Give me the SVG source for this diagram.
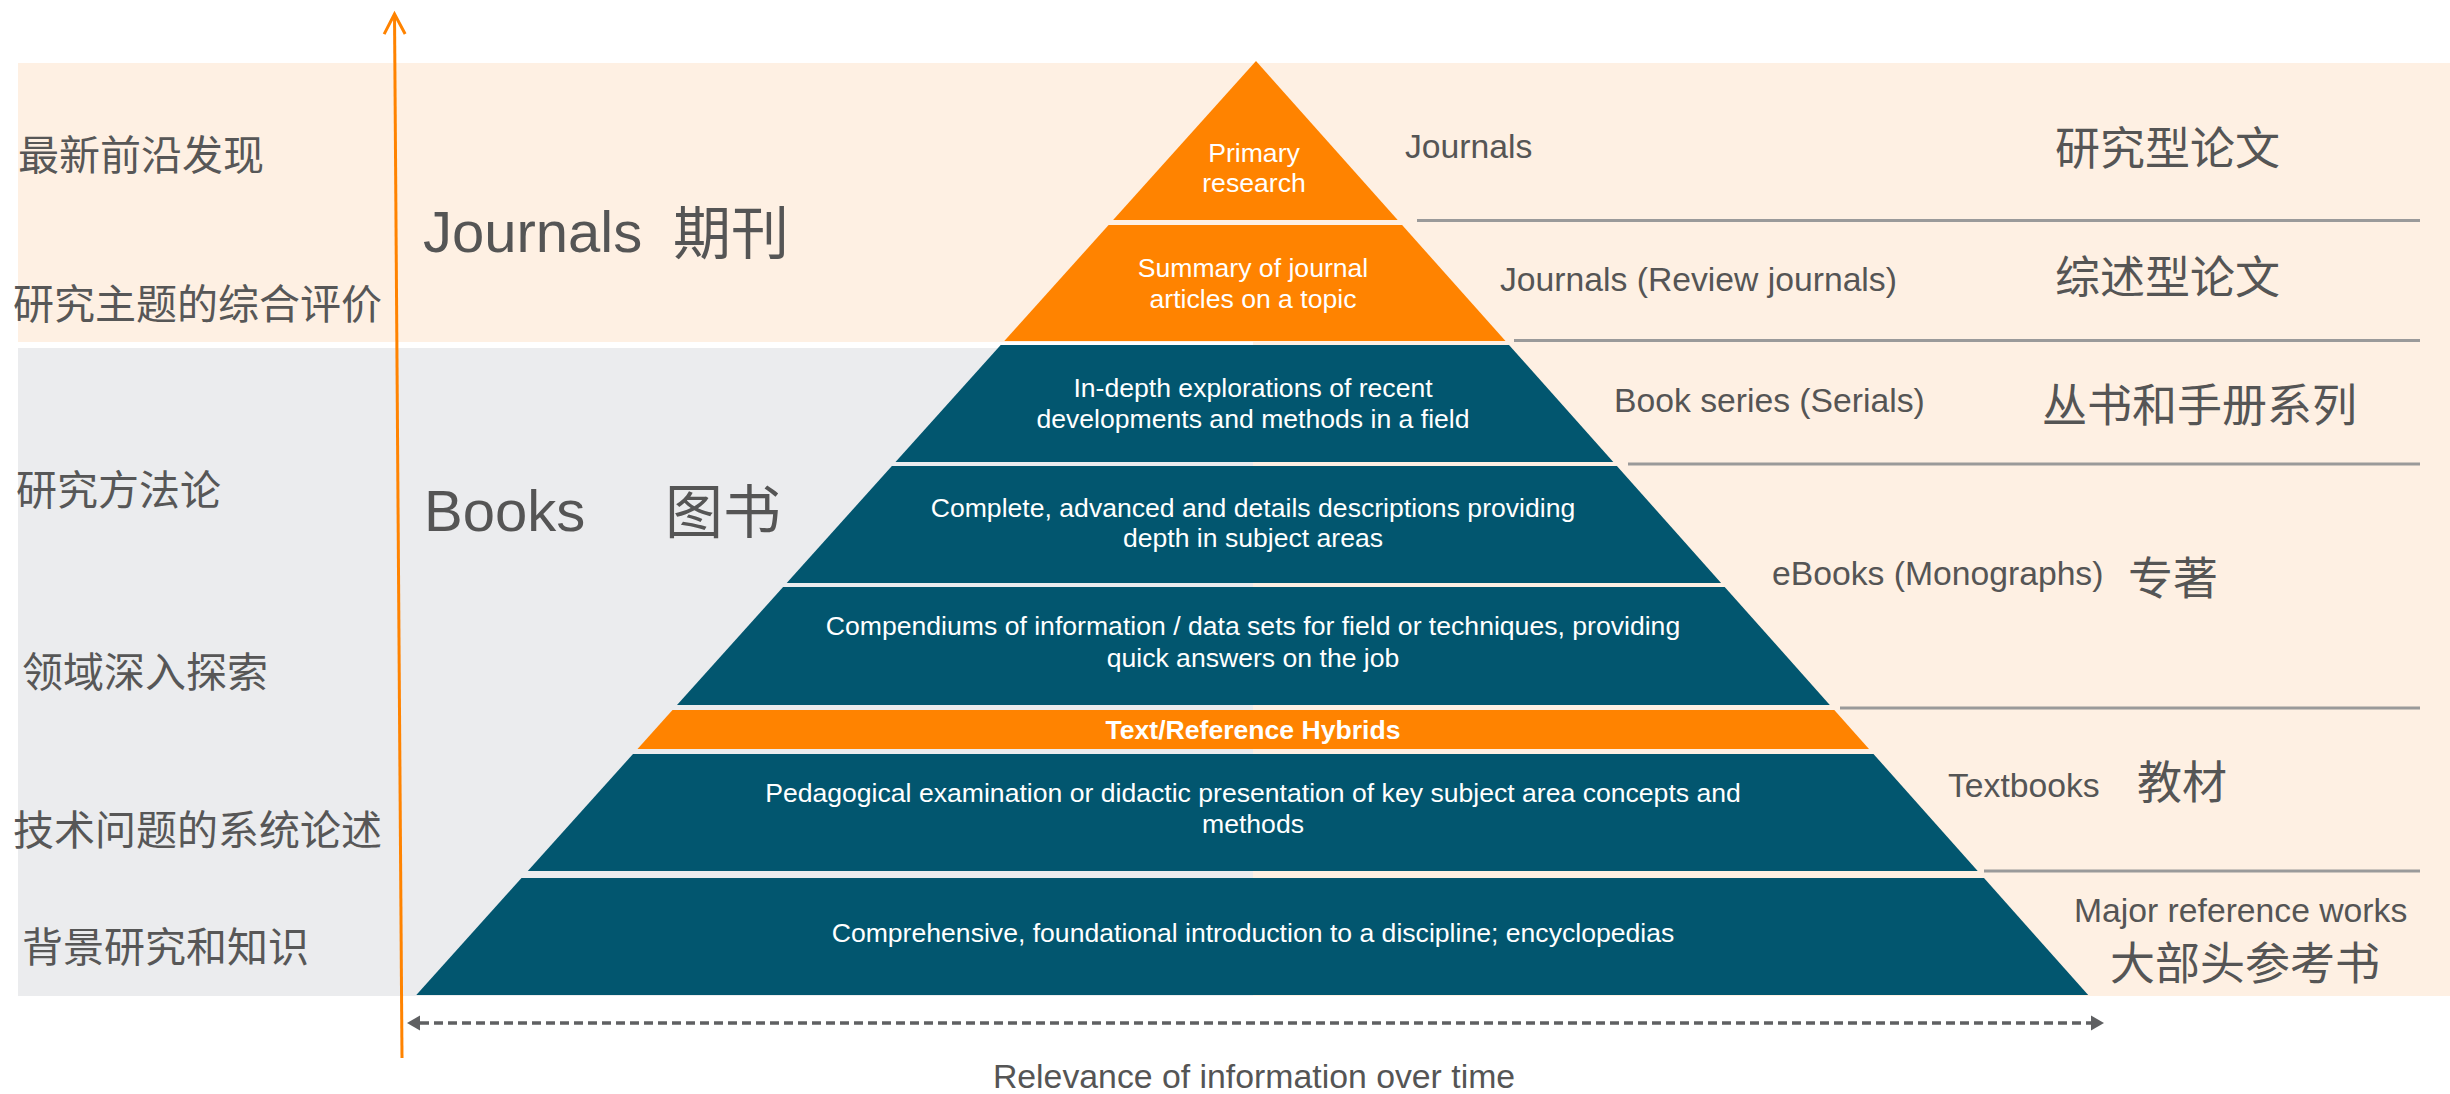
<svg xmlns="http://www.w3.org/2000/svg" width="2450" height="1094" viewBox="0 0 2450 1094">
<defs>
<style>
.bgp{fill:#FEF0E3}
.bgg{fill:#EBECEE}
.or{fill:#FF8300}
.tl{fill:#02566F}
.pt{font-family:"Liberation Sans","Noto Sans CJK SC",sans-serif;font-size:26.6px;fill:#FFFFFF;text-anchor:middle}
.ptb{font-weight:bold}
.lcn{font-family:"Noto Sans CJK SC","Liberation Sans",sans-serif;font-size:41px;fill:#575757}
.big{font-family:"Liberation Sans","Noto Sans CJK SC",sans-serif;font-size:58px;fill:#555555}
.rl{font-family:"Liberation Sans","Noto Sans CJK SC",sans-serif;font-size:33.7px;fill:#555555}
.rcn{font-family:"Noto Sans CJK SC","Liberation Sans",sans-serif;font-size:45px;fill:#555555}
.sep{stroke:#9A9A9A;stroke-width:3;fill:none}
.axis{stroke:#FF8300;stroke-width:3;fill:none}
.dash{stroke:#5F6062;stroke-width:3.5;fill:none;stroke-dasharray:9 5}
.cap{font-family:"Liberation Sans",sans-serif;font-size:33.8px;fill:#555555;text-anchor:middle}
</style>
<marker id="chev" viewBox="-24 -14 28 28" refX="0" refY="0" markerWidth="28" markerHeight="28" markerUnits="userSpaceOnUse" orient="auto">
<path d="M-20,-10.5 L0,0 L-20,10.5" fill="none" stroke="#FF8300" stroke-width="3" stroke-linejoin="miter"/>
</marker>
<marker id="tri" viewBox="0 -8 14 16" refX="0" refY="0" markerWidth="14" markerHeight="16" markerUnits="userSpaceOnUse" orient="auto-start-reverse">
<path d="M0,-7.5 L13,0 L0,7.5 Z" fill="#5F6062"/>
</marker>
</defs>

<g id="background">
<rect class="bgp" x="18" y="63" width="2432" height="279"/>
<rect class="bgp" x="1253" y="342" width="1197" height="654"/>
<rect class="bgg" x="18" y="348" width="1235" height="648"/>
</g>

<g id="left-labels">
<text class="lcn" x="18" y="170">最新前沿发现</text>
<text class="lcn" x="13" y="319">研究主题的综合评价</text>
<text class="lcn" x="16" y="505">研究方法论</text>
<text class="lcn" x="22" y="687">领域深入探索</text>
<text class="lcn" x="13" y="845">技术问题的系统论述</text>
<text class="lcn" x="22" y="962">背景研究和知识</text>
</g>

<g id="journals-label"><text class="big" x="423" y="252">Journals<tspan x="673" y="254">期刊</tspan></text></g>
<g id="books-label"><text class="big" x="424" y="531">Books<tspan x="665" y="533">图书</tspan></text></g>

<g id="tier-primary">
<polygon class="or" points="1256,61 1113.1,220 1397.7,220"/>
<text class="pt" x="1254" y="162">Primary</text>
<text class="pt" x="1254" y="192">research</text>
</g>
<g id="tier-review">
<polygon class="or" points="1108.6,225 1402.1,225 1505.5,341 1004.3,341"/>
<text class="pt" x="1253" y="277">Summary of journal</text>
<text class="pt" x="1253" y="308">articles on a topic</text>
</g>
<g id="tier-serials">
<polygon class="tl" points="1000.7,345 1509,345 1613.3,462 895.5,462"/>
<text class="pt" x="1253" y="397">In-depth explorations of recent</text>
<text class="pt" x="1253" y="428">developments and methods in a field</text>
</g>
<g id="tier-monographs">
<polygon class="tl" points="891.9,466 1616.9,466 1721.1,583 786.7,583"/>
<text class="pt" x="1253" y="517">Complete, advanced and details descriptions providing</text>
<text class="pt" x="1253" y="547">depth in subject areas</text>
</g>
<g id="tier-compendiums">
<polygon class="tl" points="783.1,587 1724.7,587 1829.8,705 677,705"/>
<text class="pt" x="1253" y="635">Compendiums of information / data sets for field or techniques, providing</text>
<text class="pt" x="1253" y="667">quick answers on the job</text>
</g>
<g id="tier-hybrids">
<polygon class="or" points="672.5,710 1834.3,710 1869,749 637.5,749"/>
<text class="pt ptb" x="1253" y="739">Text/Reference Hybrids</text>
</g>
<g id="tier-textbooks">
<polygon class="tl" points="633,754 1873.5,754 1977.7,871 527.8,871"/>
<text class="pt" x="1253" y="802">Pedagogical examination or didactic presentation of key subject area concepts and</text>
<text class="pt" x="1253" y="833">methods</text>
</g>
<g id="tier-reference">
<polygon class="tl" points="521.5,878 1984,878 2088.2,995 416.3,995"/>
<text class="pt" x="1253" y="942">Comprehensive, foundational introduction to a discipline; encyclopedias</text>
</g>

<g id="right-labels">
<text class="rl" x="1405" y="158">Journals</text>
<text class="rcn" x="2055" y="165">研究型论文</text>
<text class="rl" x="1500" y="291">Journals (Review journals)</text>
<text class="rcn" x="2055" y="294">综述型论文</text>
<text class="rl" x="1614" y="412">Book series (Serials)</text>
<text class="rcn" x="2042" y="422">丛书和手册系列</text>
<text class="rl" x="1772" y="585">eBooks (Monographs)</text>
<text class="rcn" x="2128" y="595">专著</text>
<text class="rl" x="1948" y="797">Textbooks</text>
<text class="rcn" x="2137" y="799">教材</text>
<text class="rl" x="2074" y="922">Major reference works</text>
<text class="rcn" x="2110" y="980">大部头参考书</text>
</g>

<g id="connectors">
<line class="sep" x1="1417" y1="220.5" x2="2420" y2="220.5"/>
<line class="sep" x1="1514" y1="340.5" x2="2420" y2="340.5"/>
<line class="sep" x1="1628" y1="464" x2="2420" y2="464"/>
<line class="sep" x1="1840" y1="708" x2="2420" y2="708"/>
<line class="sep" x1="1984" y1="871" x2="2420" y2="871"/>
<line class="axis" x1="402" y1="1058" x2="394.5" y2="14" marker-end="url(#chev)"/>
<line class="dash" x1="420" y1="1023" x2="2091" y2="1023" marker-start="url(#tri)" marker-end="url(#tri)"/>
</g>

<g id="axis-caption">
<text class="cap" x="1254" y="1088">Relevance of information over time</text>
</g>
</svg>
